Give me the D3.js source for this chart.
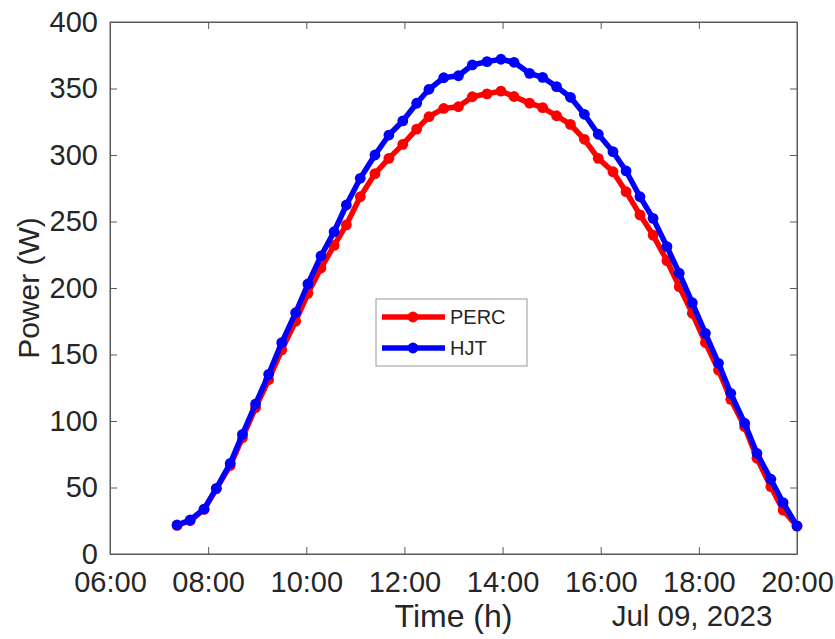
<!DOCTYPE html>
<html><head><meta charset="utf-8">
<script src="https://cdn.jsdelivr.net/npm/d3@7"></script>
<style>body{margin:0;background:#fff}svg{display:block}text{font-family:"Liberation Sans",Arial,sans-serif;fill:#262626}</style>
</head><body><svg id="c" width="835" height="639"></svg>
<script>
const times = ["07:22","07:38","07:55","08:10","08:27","08:42","08:58","09:14","09:30","09:47","10:02","10:18","10:34","10:49","11:06","11:24","11:41","11:58","12:15","12:30","12:48","13:06","13:23","13:41","13:58","14:14","14:33","14:49","15:06","15:23","15:40","15:57","16:15","16:31","16:48","17:04","17:21","17:36","17:52","18:08","18:24","18:39","18:56","19:11","19:28","19:43","20:00"];
const perc = [21.5,25,33.5,49,66.5,87.5,110,131,153.5,175,196,215,232,247.5,268.6,286,297.5,308,319.5,328.8,335,336.3,343.8,346,348,344,339,335.6,329.5,323,311.8,297.5,287.4,272.4,255,239.8,220.5,201,181,159,138.3,116.3,95.7,72,50.6,33,21];
const hjt = [21.8,25.6,33.8,49.4,68.2,90,112.8,135.1,158.9,181.4,203,224.1,242.3,262.4,282.5,300,315,325.6,338.9,349.4,358.1,359.6,367.7,370.2,372,369.7,361.4,358.4,351.4,343.4,330.6,315.6,302.5,288,268.6,252.4,231.1,211.1,188.9,165.9,143.4,120.8,98.3,75.7,56.2,38.6,21.1];
const seriesNames = ["PERC","HJT"];
const seriesColors = ["#ff0000","#0000ff"];
const yTicks = [0,50,100,150,200,250,300,350,400];
const xTickLabels = ["06:00","08:00","10:00","12:00","14:00","16:00","18:00","20:00"];
const dateLabel = "Jul 09, 2023";

const parse = d3.timeParse("%Y-%m-%d %H:%M");
const day = "2023-07-09 ";
const T = times.map(t => parse(day + t));
const L = 110, R = 797, Tp = 22, B = 554;
const x = d3.scaleTime().domain([parse(day+"06:00"), parse(day+"20:00")]).range([L, R]);
const y = d3.scaleLinear().domain([0, 400]).range([B, Tp]);
const svg = d3.select("#c");
const axisColor = "#5a5a5a";

svg.append("rect").attr("x", L).attr("y", Tp).attr("width", R-L).attr("height", B-Tp)
  .attr("fill", "none").attr("stroke", axisColor).attr("stroke-width", 1);

const xt = xTickLabels.map(s => parse(day + s));
const tickLen = 7;
const gx = svg.append("g").attr("transform", `translate(0,${B})`)
  .call(d3.axisBottom(x).tickValues(xt).tickFormat(d3.timeFormat("%H:%M")).tickSizeInner(-tickLen).tickSizeOuter(0));
const gxt = svg.append("g").attr("transform", `translate(0,${Tp})`)
  .call(d3.axisTop(x).tickValues(xt).tickFormat("").tickSizeInner(-tickLen).tickSizeOuter(0));
const gy = svg.append("g").attr("transform", `translate(${L},0)`)
  .call(d3.axisLeft(y).tickValues(yTicks).tickSizeInner(-tickLen).tickSizeOuter(0).tickPadding(12));
const gyr = svg.append("g").attr("transform", `translate(${R},0)`)
  .call(d3.axisRight(y).tickValues(yTicks).tickFormat("").tickSizeInner(-tickLen).tickSizeOuter(0));
[gx, gxt, gy, gyr].forEach(g => {
  g.select(".domain").attr("stroke", axisColor);
  g.selectAll(".tick line").attr("stroke", axisColor);
  g.selectAll(".tick text").attr("fill", "#262626").style("font-size", "29px").attr("font-family", null);
});
gx.selectAll(".tick text").attr("y", 38).attr("dy", 0);

const data = [perc, hjt];
data.forEach((vals, i) => {
  const pts = vals.map((v, k) => [T[k], v]);
  svg.append("path").datum(pts)
    .attr("fill", "none").attr("stroke", seriesColors[i]).attr("stroke-width", 5.5)
    .attr("stroke-linejoin", "round")
    .attr("d", d3.line().x(d => x(d[0])).y(d => y(d[1])));
  svg.append("g").selectAll("circle").data(pts).join("circle")
    .attr("cx", d => x(d[0])).attr("cy", d => y(d[1])).attr("r", 5.4).attr("fill", seriesColors[i]);
});

svg.append("text").attr("x", (L+R)/2).attr("y", 627).attr("text-anchor", "middle")
  .style("font-size", "32px").text("Time (h)");
svg.append("text").attr("x", 692).attr("y", 626).attr("text-anchor", "middle")
  .style("font-size", "29.5px").text(dateLabel);
svg.append("text").attr("transform", `translate(39,${(Tp+B)/2}) rotate(-90)`).attr("text-anchor", "middle")
  .style("font-size", "30px").text("Power (W)");

const lg = svg.append("g");
lg.append("rect").attr("x", 376).attr("y", 299).attr("width", 151).attr("height", 67)
  .attr("fill", "#fff").attr("stroke", "#999").attr("stroke-width", 1);
seriesNames.forEach((n, i) => {
  const yy = 317 + i*31;
  lg.append("line").attr("x1", 382).attr("x2", 445).attr("y1", yy).attr("y2", yy)
    .attr("stroke", seriesColors[i]).attr("stroke-width", 5.5);
  lg.append("circle").attr("cx", 413).attr("cy", yy).attr("r", 5.4).attr("fill", seriesColors[i]);
  lg.append("text").attr("x", 450).attr("y", yy).attr("dy", "0.35em").style("font-size", "20px").text(n);
});
</script></body></html>
